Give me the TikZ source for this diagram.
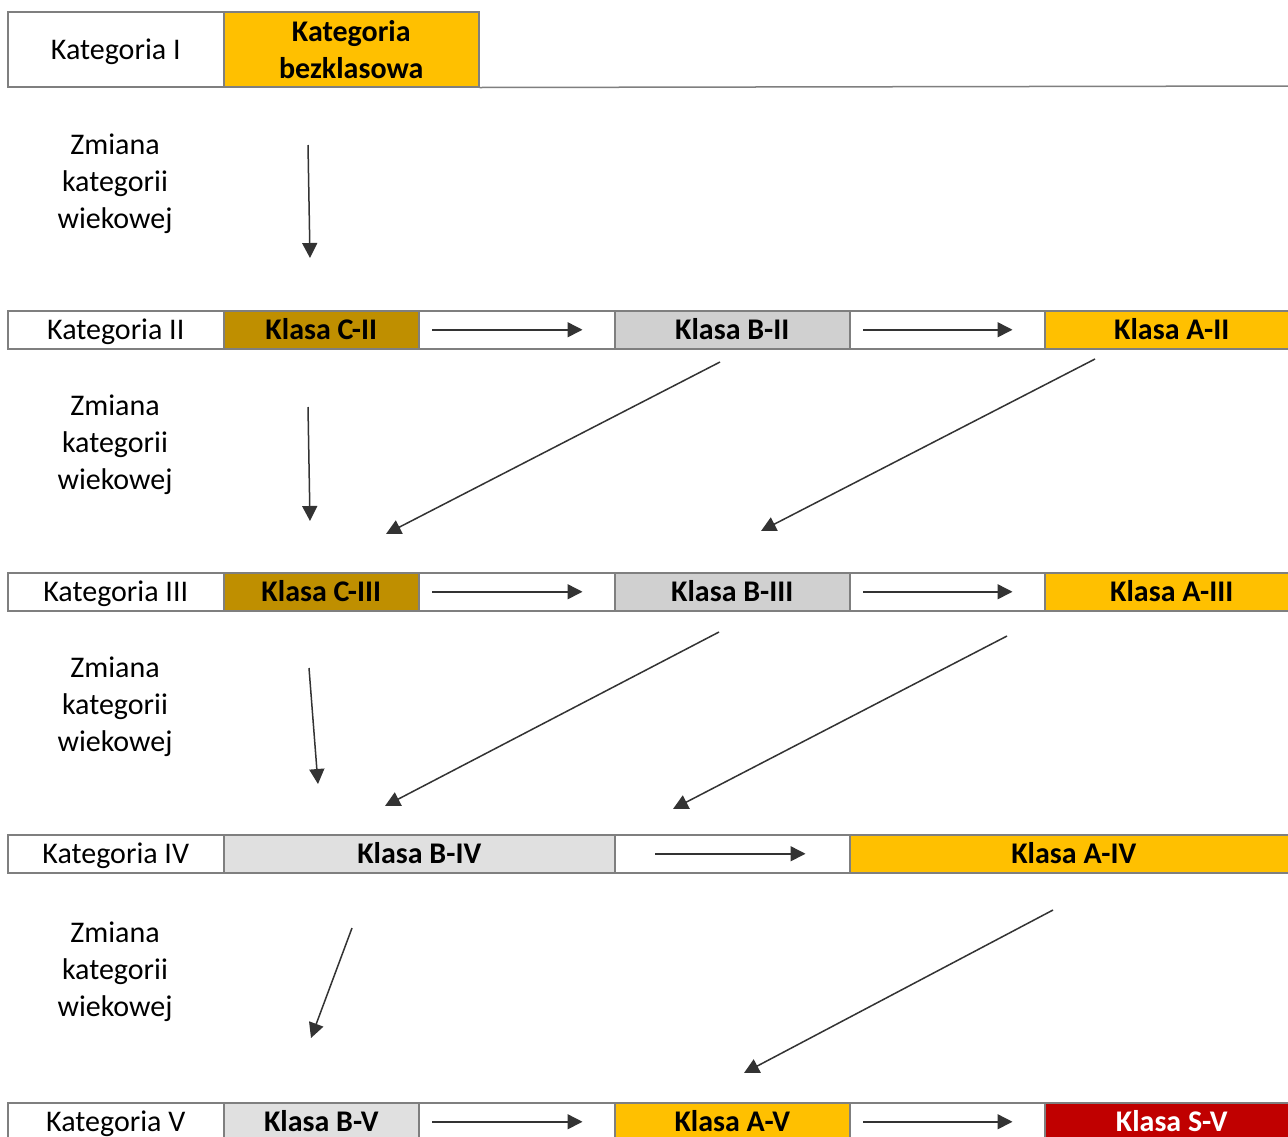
\documentclass[tikz,border=0pt]{standalone}
\usepackage{fontspec}
\setmainfont{Carlito}
\usetikzlibrary{arrows.meta}
\definecolor{bordercol}{HTML}{7F7F7F}
\definecolor{yel}{HTML}{FFC000}
\definecolor{gold}{HTML}{BF8F00}
\definecolor{grayB}{HTML}{D0D0D0}
\definecolor{grayL}{HTML}{E0E0E0}
\definecolor{redS}{HTML}{C00000}
\begin{document}
\begin{tikzpicture}[x=1pt,y=-1pt,
  basecell/.style={draw=bordercol,line width=1.5pt,inner sep=0pt,anchor=north west,
    font=\fontsize{30}{37}\selectfont,align=center},
  cell/.style={basecell,text height=20pt,text depth=0pt},
  klasa/.style={cell,font=\fontsize{30}{37}\selectfont\bfseries},
  zm/.style={font=\fontsize{30}{37}\selectfont,align=center,inner sep=0pt},
  arr/.style={draw=black!80,line width=1.5pt,-{Triangle[length=15pt,width=15pt]}}]
\useasboundingbox (0,0) rectangle (1288,1136);
\clip (0,0) rectangle (1288,1136);
\fill[white] (0,0) rectangle (1288,1136);
% Row I
\node[cell,minimum width=216pt,minimum height=75pt] (k1) at (7,11) {Kategoria I};
\node[basecell,font=\fontsize{30}{37}\selectfont\bfseries,fill=yel,minimum width=255pt,minimum height=75pt] (bez) at (223,11) {Kategoria\\bezklasowa};
\coordinate (r1end) at (1300,86);
\draw[draw=bordercol,line width=1.5pt] (bez.south east) -- (r1end);
\node[zm] (z1) at (115,184) {Zmiana\\kategorii\\wiekowej};
% Row II
\node[cell,minimum width=216pt,minimum height=38pt] (k2) at (7,310) {Kategoria II};
\node[klasa,fill=gold,minimum width=195pt,minimum height=38pt] (c2) at (223,310) {Klasa C-II};
\node[cell,minimum width=196pt,minimum height=38pt] (w2a) at (418,310) {};
\node[klasa,fill=grayB,minimum width=235pt,minimum height=38pt] (b2) at (614,310) {Klasa B-II};
\node[cell,minimum width=195pt,minimum height=38pt] (w2b) at (849,310) {};
\node[klasa,fill=yel,minimum width=260pt,minimum height=38pt] (a2) at (1044,310) {\hspace*{-6pt}Klasa A-II};
\node[zm] (z2) at (115,445) {Zmiana\\kategorii\\wiekowej};
% Row III
\node[cell,minimum width=216pt,minimum height=38pt] (k3) at (7,572) {Kategoria III};
\node[klasa,fill=gold,minimum width=195pt,minimum height=38pt] (c3) at (223,572) {Klasa C-III};
\node[cell,minimum width=196pt,minimum height=38pt] (w3a) at (418,572) {};
\node[klasa,fill=grayB,minimum width=235pt,minimum height=38pt] (b3) at (614,572) {Klasa B-III};
\node[cell,minimum width=195pt,minimum height=38pt] (w3b) at (849,572) {};
\node[klasa,fill=yel,minimum width=260pt,minimum height=38pt] (a3) at (1044,572) {\hspace*{-6pt}Klasa A-III};
\node[zm] (z3) at (115,707) {Zmiana\\kategorii\\wiekowej};
% Row IV
\node[cell,minimum width=216pt,minimum height=38pt] (k4) at (7,834) {Kategoria IV};
\node[klasa,fill=grayL,minimum width=391pt,minimum height=38pt] (b4) at (223,834) {Klasa B-IV};
\node[cell,minimum width=235pt,minimum height=38pt] (w4) at (614,834) {};
\node[klasa,fill=yel,minimum width=455pt,minimum height=38pt] (a4) at (849,834) {\hspace*{-7pt}Klasa A-IV};
\node[zm] (z4) at (115,972) {Zmiana\\kategorii\\wiekowej};
% Row V
\node[cell,minimum width=216pt,minimum height=38pt] (k5) at (7,1102) {Kategoria V};
\node[klasa,fill=grayL,minimum width=195pt,minimum height=38pt] (b5) at (223,1102) {Klasa B-V};
\node[cell,minimum width=196pt,minimum height=38pt] (w5a) at (418,1102) {};
\node[klasa,fill=yel,minimum width=235pt,minimum height=38pt] (a5) at (614,1102) {Klasa A-V};
\node[cell,minimum width=195pt,minimum height=38pt] (w5b) at (849,1102) {};
\node[klasa,fill=redS,text=white,minimum width=260pt,minimum height=38pt] (s5) at (1044,1102) {\hspace*{-6pt}Klasa S-V};
% coordinates for connector ends
\coordinate (d1s) at (308,145); \coordinate (d1e) at (310,258);
\coordinate (d2s) at (308,407); \coordinate (d2e) at (310,521);
\coordinate (d3s) at (309,668); \coordinate (d3e) at (318,784);
\coordinate (d4s) at (352,928); \coordinate (d4e) at (311,1038);
\coordinate (e2s) at (720,362); \coordinate (e2e) at (386,534);
\coordinate (f2s) at (1095,359); \coordinate (f2e) at (761,531);
\coordinate (e3s) at (719,632); \coordinate (e3e) at (385,806);
\coordinate (f3s) at (1007,636); \coordinate (f3e) at (673,809);
\coordinate (f4s) at (1053,910); \coordinate (f4e) at (744,1073);
% vertical-ish arrows
\draw[arr] (d1s) -- (d1e);
\draw[arr] (d2s) -- (d2e);
\draw[arr] (d3s) -- (d3e);
\draw[arr] (d4s) -- (d4e);
% diagonal arrows
\draw[arr] (e2s) -- (e2e);
\draw[arr] (f2s) -- (f2e);
\draw[arr] (e3s) -- (e3e);
\draw[arr] (f3s) -- (f3e);
\draw[arr] (f4s) -- (f4e);
% horizontal arrows
\draw[arr] ([xshift=14pt]w2a.west) -- ([xshift=-33pt]w2a.east);
\draw[arr] ([xshift=14pt]w2b.west) -- ([xshift=-33pt]w2b.east);
\draw[arr] ([xshift=14pt]w3a.west) -- ([xshift=-33pt]w3a.east);
\draw[arr] ([xshift=14pt]w3b.west) -- ([xshift=-33pt]w3b.east);
\draw[arr] ([xshift=41pt]w4.west) -- ([xshift=-45pt]w4.east);
\draw[arr] ([xshift=14pt]w5a.west) -- ([xshift=-33pt]w5a.east);
\draw[arr] ([xshift=14pt]w5b.west) -- ([xshift=-33pt]w5b.east);
\end{tikzpicture}
\end{document}
